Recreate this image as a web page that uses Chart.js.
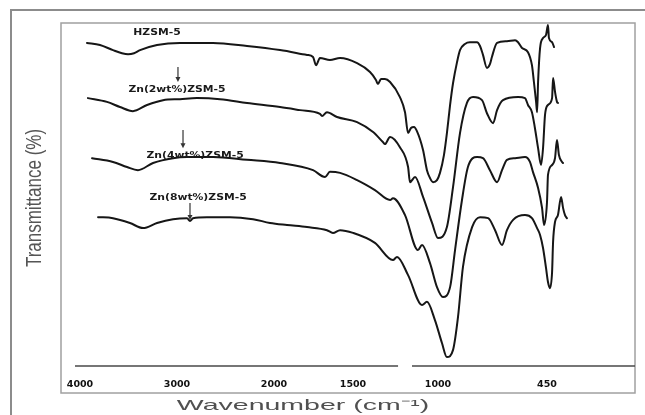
<!DOCTYPE html>
<html>
<head>
<meta charset="utf-8">
<script src="https://cdn.jsdelivr.net/npm/chart.js@4.4.1/dist/chart.umd.min.js"></script>
<style>
  html, body { margin: 0; padding: 0; background: #fff; }
  #wrap { width: 645px; height: 415px; position: relative; }
</style>
</head>
<body>
<div id="wrap"><canvas id="ftir"></canvas></div>
<script>
// Wavenumber tick labels (cm-1)
const tickWavenumbers = [4000, 3000, 2000, 1500, 1000, 450];

// Sample names
const sampleNames = ['HZSM-5', 'Zn(2wt%)ZSM-5', 'Zn(4wt%)ZSM-5', 'Zn(8wt%)ZSM-5'];

// FTIR spectra: wavenumber (cm-1) and offset transmittance (a.u.)
const hzsmWn = [3928, 3794, 3660, 3567, 3505, 3443, 3381, 3206, 2969, 2629, 2278, 1962, 1791, 1753, 1734, 1709, 1646, 1582, 1476, 1400, 1365, 1353, 1335, 1312, 1282, 1224, 1194, 1176, 1159, 1141, 1124, 1088, 1065, 1047, 1029, 1006, 990, 970, 955, 939, 924, 904, 889, 864, 839, 803, 788, 773, 753, 738, 728, 702, 652, 611, 596, 576, 546, 526, 516, 505, 500, 495, 485, 470, 455, 445, 440, 424, 414];
const hzsmT = [94.2, 93.6, 92.1, 91.2, 90.9, 91.2, 92.1, 93.6, 94.2, 94.2, 93.3, 92.1, 90.7, 90.1, 87.7, 89.8, 89.2, 89.8, 88.3, 85.7, 83.4, 82.2, 83.7, 83.7, 82.8, 78.4, 74.0, 67.9, 69.4, 69.7, 68.5, 63.0, 57.1, 54.8, 53.6, 54.2, 56.3, 61.5, 67.9, 76.1, 82.5, 88.6, 92.1, 93.9, 94.4, 94.4, 93.3, 90.7, 86.9, 88.0, 90.1, 94.2, 94.7, 95.0, 94.4, 92.7, 91.5, 87.7, 82.8, 77.0, 74.0, 82.8, 92.7, 95.6, 96.5, 99.4, 95.6, 94.4, 93.0];

const zn2Wn = [3918, 3722, 3588, 3454, 3309, 3144, 2969, 2794, 2557, 2278, 1962, 1835, 1709, 1696, 1665, 1601, 1476, 1382, 1324, 1312, 1282, 1224, 1176, 1165, 1135, 1088, 1035, 1000, 955, 924, 889, 854, 823, 778, 753, 722, 702, 672, 596, 561, 546, 526, 511, 495, 480, 470, 460, 445, 424, 419, 409, 399, 394];
const zn2T = [78.1, 77.0, 75.5, 74.3, 76.1, 77.5, 77.8, 78.1, 77.8, 76.7, 75.5, 74.6, 73.5, 72.9, 74.0, 72.6, 71.1, 68.2, 65.3, 64.7, 66.8, 63.8, 58.0, 53.6, 55.1, 49.3, 41.7, 37.3, 40.5, 52.2, 67.9, 76.7, 78.4, 77.5, 73.7, 70.8, 74.6, 77.5, 78.4, 78.1, 76.1, 74.0, 69.4, 63.5, 58.6, 63.5, 73.2, 76.1, 78.1, 84.0, 79.9, 77.0, 76.7];

const zn4Wn = [3876, 3660, 3515, 3402, 3247, 3041, 2897, 2629, 2278, 1962, 1753, 1677, 1646, 1582, 1476, 1371, 1282, 1265, 1194, 1118, 1094, 1047, 1006, 975, 939, 914, 879, 849, 803, 773, 738, 702, 677, 652, 611, 561, 536, 521, 495, 475, 465, 450, 445, 424, 409, 399, 389, 373, 368];
const zn4T = [60.6, 59.5, 58.0, 57.1, 59.2, 60.6, 60.9, 60.9, 60.1, 59.2, 57.1, 55.1, 56.6, 56.3, 54.2, 51.3, 48.4, 48.9, 44.0, 33.8, 35.3, 30.0, 23.0, 20.1, 23.0, 33.8, 48.4, 58.0, 60.9, 60.6, 57.1, 53.6, 57.1, 60.1, 60.6, 60.9, 59.5, 56.6, 51.9, 46.1, 41.1, 47.8, 55.7, 58.6, 60.6, 65.9, 61.5, 59.5, 59.2];

const zn8Wn = [3814, 3660, 3485, 3350, 3206, 3041, 2897, 2866, 2835, 2691, 2454, 2216, 2041, 1918, 1791, 1665, 1627, 1582, 1500, 1371, 1265, 1241, 1176, 1094, 1065, 1018, 980, 955, 924, 899, 874, 828, 788, 747, 712, 677, 652, 621, 561, 526, 500, 485, 470, 455, 445, 435, 424, 419, 409, 394, 378, 368, 358, 348];
const zn8T = [43.4, 43.1, 41.7, 40.2, 41.7, 42.8, 43.1, 42.3, 43.1, 43.4, 43.4, 42.8, 41.7, 41.1, 40.5, 39.6, 38.8, 39.6, 38.8, 35.9, 30.9, 31.8, 26.5, 17.8, 18.7, 13.4, 6.7, 2.6, 4.7, 14.3, 28.9, 40.5, 43.4, 43.1, 39.6, 35.3, 39.6, 42.6, 44.0, 43.1, 40.2, 38.2, 34.4, 28.6, 24.5, 22.7, 27.4, 36.1, 42.0, 44.0, 49.3, 46.1, 44.0, 43.1];

// Sample label anchors [wavenumber, transmittance] and marker arrows [wavenumber, from, to]
const labelAnchors = [[3206, 97.1], [3000, 80.5], [2814, 61.2], [2783, 49.0]];
const arrowMarks = [[2990, 87.2, 82.8], [2938, 68.8, 63.5], [2866, 47.5, 42.6]];

// Axis break on the wavenumber axis (cm-1)
const axisBreak = [1235, 1153];

// Piecewise-linear wavenumber axis: each labelled wavenumber has its own position
class SegmentedScale extends Chart.LinearScale {
  static id = 'segmented';
  static defaults = { ticks: { callback: (v) => String(v) } };
  determineDataLimits() {
    const v = this.options.knots.values;
    this.min = Math.min(...v);
    this.max = Math.max(...v);
  }
  buildTicks() {
    return this.options.knots.ticks.map(v => ({ value: v }));
  }
  _fraction(value) {
    const vals = this.options.knots.values;
    const fr = this.options.knots.fractions;
    const n = vals.length;
    for (let i = 0; i < n - 1; i++) {
      const a = vals[i], b = vals[i + 1];
      if (value <= a && value >= b) {
        return fr[i] + (a - value) / (a - b) * (fr[i + 1] - fr[i]);
      }
    }
    if (value > vals[0]) {
      return fr[0] - (value - vals[0]) / (vals[0] - vals[1]) * (fr[1] - fr[0]);
    }
    return fr[n - 1] + (vals[n - 1] - value) / (vals[n - 2] - vals[n - 1]) * (fr[n - 1] - fr[n - 2]);
  }
  getPixelForValue(value) {
    return this.left + this._fraction(value) * this.width;
  }
  getValueForPixel(pixel) {
    const vals = this.options.knots.values;
    const fr = this.options.knots.fractions;
    const f = (pixel - this.left) / this.width;
    for (let i = 0; i < vals.length - 1; i++) {
      if (f >= fr[i] && f <= fr[i + 1]) {
        return vals[i] - (f - fr[i]) / (fr[i + 1] - fr[i]) * (vals[i] - vals[i + 1]);
      }
    }
    return f < 0 ? vals[0] : vals[vals.length - 1];
  }
}
Chart.register(SegmentedScale);

const toPoints = (wn, t) => wn.map((x, i) => ({ x, y: t[i] }));
const spectra = [
  toPoints(hzsmWn, hzsmT),
  toPoints(zn2Wn, zn2T),
  toPoints(zn4Wn, zn4T),
  toPoints(zn8Wn, zn8T)
];

function stretchedText(ctx, text, x, y, sx, font, color, rotate) {
  ctx.save();
  ctx.translate(x, y);
  ctx.scale(sx, 1);
  if (rotate) ctx.rotate(rotate);
  ctx.font = font;
  ctx.fillStyle = color;
  ctx.textAlign = 'center';
  ctx.textBaseline = 'middle';
  ctx.fillText(text, 0, 0);
  ctx.restore();
}

const decorations = {
  id: 'decorations',
  beforeDraw(chart) {
    const { ctx, chartArea: a } = chart;
    ctx.save();
    ctx.fillStyle = '#fff';
    ctx.fillRect(0, 0, chart.width, chart.height);
    // outer border
    ctx.strokeStyle = '#8c8c8c';
    ctx.lineWidth = 2;
    ctx.beginPath();
    ctx.moveTo(11, chart.height);
    ctx.lineTo(11, 10);
    ctx.lineTo(chart.width, 10);
    ctx.stroke();
    // inner panel
    ctx.strokeStyle = '#a0a0a0';
    ctx.lineWidth = 1.5;
    ctx.strokeRect(a.left - 14, a.top, a.right - a.left + 14, a.bottom - a.top + 27);
    ctx.restore();
  },
  afterDatasetsDraw(chart) {
    const { ctx, chartArea: a, scales: { x, y } } = chart;
    ctx.save();
    // broken wavenumber axis
    ctx.strokeStyle = '#4a4a4a';
    ctx.lineWidth = 1.5;
    ctx.beginPath();
    ctx.moveTo(a.left, a.bottom);
    ctx.lineTo(x.getPixelForValue(axisBreak[0]), a.bottom);
    ctx.moveTo(x.getPixelForValue(axisBreak[1]), a.bottom);
    ctx.lineTo(a.right, a.bottom);
    ctx.stroke();

    // sample labels
    sampleNames.forEach((name, i) => {
      const [wn, t] = labelAnchors[i];
      stretchedText(ctx, name, x.getPixelForValue(wn), y.getPixelForValue(t), 1.2,
        'bold 9px "DejaVu Sans"', '#1a1a1a');
    });

    // arrows pointing at the spectra
    ctx.strokeStyle = '#333';
    ctx.fillStyle = '#333';
    ctx.lineWidth = 1.2;
    arrowMarks.forEach(([wn, from, to]) => {
      const px = x.getPixelForValue(wn);
      const y0 = y.getPixelForValue(from);
      const y1 = y.getPixelForValue(to);
      ctx.beginPath();
      ctx.moveTo(px, y0);
      ctx.lineTo(px, y1 - 3);
      ctx.stroke();
      ctx.beginPath();
      ctx.moveTo(px - 2.5, y1 - 5);
      ctx.lineTo(px + 2.5, y1 - 5);
      ctx.lineTo(px, y1);
      ctx.closePath();
      ctx.fill();
    });

    // axis titles
    stretchedText(ctx, 'Transmittance (%)', 35, 198, 1.3,
      '17px "Liberation Sans"', '#555', -Math.PI / 2);
    stretchedText(ctx, 'Wavenumber (cm\u207B\u00B9)', 303, 406, 1.9,
      '15px "Liberation Sans"', '#505050');
    ctx.restore();
  }
};

new Chart(document.getElementById('ftir'), {
  type: 'line',
  data: {
    datasets: spectra.map((pts, i) => ({
      label: sampleNames[i],
      data: pts,
      borderColor: '#161616',
      borderWidth: 2,
      pointRadius: 0,
      fill: false,
      cubicInterpolationMode: 'monotone',
      borderJoinStyle: 'round',
      borderCapStyle: 'round'
    }))
  },
  options: {
    responsive: true,
    maintainAspectRatio: false,
    animation: false,
    layout: { padding: { left: 75, right: 10, top: 23, bottom: 0 } },
    plugins: {
      legend: { display: false },
      tooltip: { enabled: false }
    },
    scales: {
      x: {
        type: 'segmented',
        knots: {
          ticks: tickWavenumbers,
          values: [4050, 4000, 3000, 2000, 1500, 1000, 450, 0],
          fractions: [0, 0.00893, 0.18214, 0.35536, 0.49643, 0.64821, 0.84286, 1]
        },
        grid: { display: false, drawTicks: false },
        border: { display: false },
        ticks: {
          autoSkip: false,
          maxRotation: 0,
          padding: 13,
          color: '#111',
          font: { family: 'DejaVu Sans', size: 9.5, weight: 'bold' },
          callback: (v) => String(v)
        },
        afterFit: (s) => { s.height = 49; }
      },
      y: {
        display: false,
        min: 0,
        max: 100
      }
    }
  },
  plugins: [decorations]
});
</script>
</body>
</html>
